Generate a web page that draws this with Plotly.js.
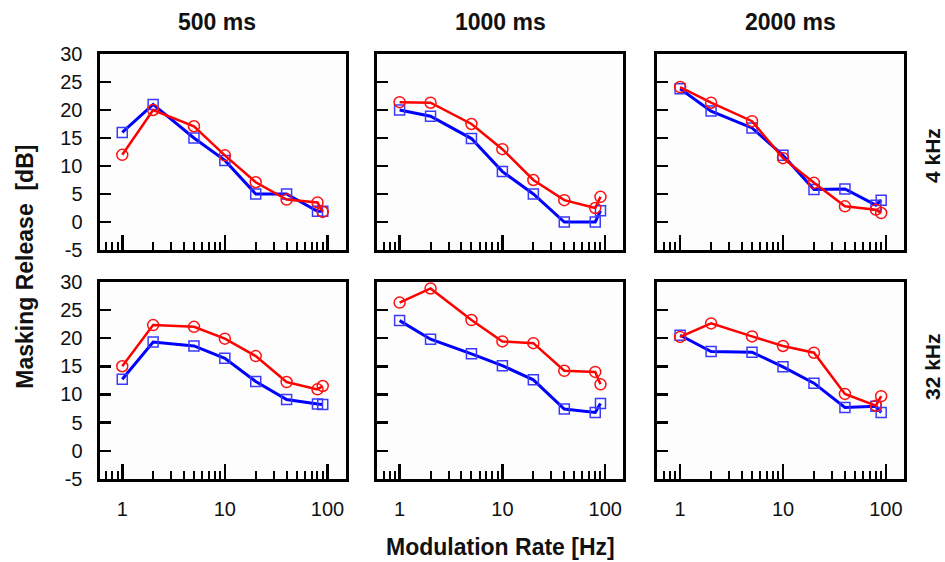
<!DOCTYPE html>
<html>
<head>
<meta charset="utf-8">
<script src="https://cdn.plot.ly/plotly-3.0.1.min.js"></script>
<style>html,body{margin:0;padding:0;background:#fff;}#chart{width:945px;height:562px;}</style>
</head>
<body>
<div id="chart"></div>
<script>
// Modulation rates (Hz)
const rates = [1, 2, 5, 10, 20, 40, 80, 90];
const xTickVals = [1, 10, 100];
const xTickText = ['1', '10', '100'];
const yTickVals = [-5, 0, 5, 10, 15, 20, 25, 30];
const yTickText = ['-5', '0', '5', '10', '15', '20', '25', '30'];
const colTitles = ['500 ms', '1000 ms', '2000 ms'];
const rowTitles = ['4 kHz', '32 kHz'];

// Row 1: 4 kHz
const blue_500_4k  = [16, 21, 15, 11, 5, 5, 1.9, 1.9];
const red_500_4k   = [12, 20, 17.1, 11.9, 7.1, 4, 3.5, 1.8];
const blue_1000_4k = [20, 18.9, 14.9, 9, 5, 0, 0, 2];
const red_1000_4k  = [21.4, 21.3, 17.5, 13, 7.5, 3.9, 2.5, 4.5];
const blue_2000_4k = [23.8, 19.8, 16.8, 11.9, 5.8, 5.9, 3, 3.9];
const red_2000_4k  = [24.1, 21.3, 18, 11.4, 7, 2.8, 2.2, 1.6];
// Row 2: 32 kHz
const blue_500_32k  = [12.7, 19.3, 18.6, 16.4, 12.3, 9.1, 8.3, 8.2];
const red_500_32k   = [15, 22.3, 22, 19.9, 16.8, 12.2, 10.9, 11.5];
const blue_1000_32k = [23.1, 19.8, 17.2, 15.1, 12.6, 7.4, 6.8, 8.4];
const red_1000_32k  = [26.3, 28.8, 23.2, 19.4, 19.1, 14.2, 14, 11.8];
const blue_2000_32k = [20.5, 17.6, 17.5, 14.9, 12, 7.7, 7.9, 6.8];
const red_2000_32k  = [20.2, 22.6, 20.3, 18.6, 17.4, 10.1, 8, 9.7];

const blueSets = [blue_500_4k, blue_1000_4k, blue_2000_4k, blue_500_32k, blue_1000_32k, blue_2000_32k];
const redSets  = [red_500_4k, red_1000_4k, red_2000_4k, red_500_32k, red_1000_32k, red_2000_32k];

const W = 945, H = 562;
const colPx = [[99.5, 345.5], [376.8, 623.3], [657.3, 904]];
const rowPx = [[54, 250], [281.7, 479]];
const FONT = 'Liberation Sans, Arial, Helvetica, sans-serif';

const traces = [];
const layout = {
  width: W, height: H,
  margin: {l: 0, r: 0, t: 0, b: 0},
  paper_bgcolor: '#ffffff',
  plot_bgcolor: '#fdfdfd',
  showlegend: false,
  font: {family: FONT, color: '#111'},
  annotations: []
};

const minorVals = [0.7, 0.8, 0.9, 2, 3, 4, 5, 6, 7, 8, 9, 20, 30, 40, 50, 60, 70, 80, 90];

for (let r = 0; r < 2; r++) {
  for (let c = 0; c < 3; c++) {
    const i = r * 3 + c;
    const n = i + 1;
    const xa = n === 1 ? 'xaxis' : 'xaxis' + n;
    const ya = n === 1 ? 'yaxis' : 'yaxis' + n;
    const xr = n === 1 ? 'x' : 'x' + n;
    const yr = n === 1 ? 'y' : 'y' + n;
    layout[xa] = {
      type: 'log',
      domain: [colPx[c][0] / W, colPx[c][1] / W],
      anchor: yr,
      range: [Math.log10(0.6), Math.log10(150)],
      tickmode: 'array', tickvals: xTickVals, ticktext: xTickText,
      ticks: 'inside', ticklen: 15, tickwidth: 2.5, tickcolor: '#000',
      minor: {tickmode: 'array', tickvals: minorVals, ticks: 'inside', ticklen: 8, tickwidth: 2, tickcolor: '#000', showgrid: false},
      showticklabels: r === 1,
      ticklabelstandoff: 10,
      tickfont: {size: 20, family: FONT, color: '#111'},
      showline: true, linecolor: '#000', linewidth: 3, mirror: true,
      showgrid: false, zeroline: false, fixedrange: true
    };
    layout[ya] = {
      domain: [1 - rowPx[r][1] / H, 1 - rowPx[r][0] / H],
      anchor: xr,
      range: [-5, 30],
      tickmode: 'array', tickvals: yTickVals, ticktext: yTickText,
      ticks: 'inside', ticklen: 11, tickwidth: 2.5, tickcolor: '#000',
      showticklabels: c === 0,
      ticklabelstandoff: 10,
      tickfont: {size: 20, family: FONT, color: '#111'},
      showline: true, linecolor: '#000', linewidth: 3, mirror: true,
      showgrid: false, zeroline: false, fixedrange: true
    };
    traces.push({
      x: rates, y: blueSets[i], xaxis: xr, yaxis: yr,
      type: 'scatter', mode: 'lines+markers', cliponaxis: false,
      line: {color: '#0000ff', width: 3},
      marker: {symbol: 'square-open', size: 10, color: '#3a3aff', line: {width: 1.5}}
    });
    traces.push({
      x: rates, y: redSets[i], xaxis: xr, yaxis: yr,
      type: 'scatter', mode: 'lines+markers', cliponaxis: false,
      line: {color: '#ff0000', width: 2.5},
      marker: {symbol: 'circle-open', size: 11, color: '#ff1010', line: {width: 1.5}}
    });
  }
}

const colTitleX = [216.7, 500, 790];
for (let c = 0; c < 3; c++) {
  layout.annotations.push({
    text: '<b>' + colTitles[c] + '</b>', showarrow: false,
    xref: 'paper', yref: 'paper', x: colTitleX[c] / W, y: 1 - 21.7 / H,
    xanchor: 'center', yanchor: 'middle',
    font: {size: 23, family: FONT, color: '#111'}
  });
}
const rowTitleY = [156, 367];
for (let r = 0; r < 2; r++) {
  layout.annotations.push({
    text: '<b>' + rowTitles[r] + '</b>', showarrow: false, textangle: -90,
    xref: 'paper', yref: 'paper', x: 932 / W, y: 1 - rowTitleY[r] / H,
    xanchor: 'center', yanchor: 'middle',
    font: {size: 21, family: FONT, color: '#111'}
  });
}
layout.annotations.push({
  text: '<b>Masking Release  [dB]</b>', showarrow: false, textangle: -90,
  xref: 'paper', yref: 'paper', x: 25 / W, y: 1 - 266.7 / H,
  xanchor: 'center', yanchor: 'middle',
  font: {size: 23, family: FONT, color: '#111'}
});
layout.annotations.push({
  text: '<b>Modulation Rate [Hz]</b>', showarrow: false,
  xref: 'paper', yref: 'paper', x: 500 / W, y: 1 - 547 / H,
  xanchor: 'center', yanchor: 'middle',
  font: {size: 23, family: FONT, color: '#111'}
});

Plotly.newPlot('chart', traces, layout, {staticPlot: true, displayModeBar: false});
</script>
</body>
</html>
